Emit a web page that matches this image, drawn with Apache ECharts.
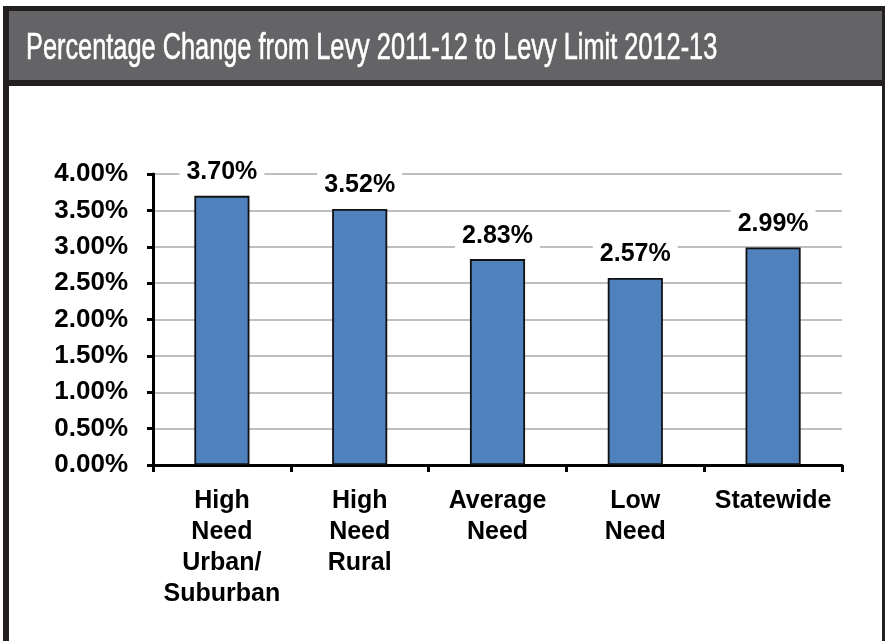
<!DOCTYPE html>
<html>
<head>
<meta charset="utf-8">
<script src="https://cdn.jsdelivr.net/npm/echarts@6/dist/echarts.min.js"></script>
<style>
html,body{margin:0;padding:0;background:#fff;}
#c{width:885px;height:641px;}
</style>
</head>
<body>
<div id="c"></div>
<script>
var titleText = 'Percentage Change from Levy 2011-12 to Levy Limit 2012-13';
var categories = ['High\nNeed\nUrban/\nSuburban', 'High\nNeed\nRural', 'Average\nNeed', 'Low\nNeed', 'Statewide'];
var values = [3.70, 3.52, 2.83, 2.57, 2.99];
var yMin = 0, yMax = 4, yInterval = 0.5;

var chart = echarts.init(document.getElementById('c'), null, {renderer: 'canvas'});
var FONT = '"Liberation Sans", Arial, Helvetica, sans-serif';
chart.setOption({
  animation: false,
  backgroundColor: '#ffffff',
  graphic: [
    {type: 'rect', shape: {x: 3, y: 6, width: 882, height: 640}, style: {fill: '#231f20'}, z: -10},
    {type: 'rect', shape: {x: 9, y: 11, width: 873, height: 635}, style: {fill: '#ffffff'}, z: -9},
    {type: 'rect', shape: {x: 9, y: 11, width: 873, height: 69}, style: {fill: '#646466'}, z: -8},
    {type: 'rect', shape: {x: 9, y: 80, width: 873, height: 6}, style: {fill: '#231f20'}, z: -8},
    {type: 'text', x: 26, y: 49, scaleX: 0.685, scaleY: 1, z: 10,
     style: {x: 0, y: 0, text: titleText, fill: '#ffffff', font: '37px ' + FONT, verticalAlign: 'middle', align: 'left',
       stroke: '#ffffff', lineWidth: 0.6}}
  ],
  grid: {left: 153, right: 43, top: 174, bottom: 176, containLabel: false},
  xAxis: {
    type: 'category',
    data: categories,
    axisLine: {lineStyle: {color: '#000', width: 3}},
    axisTick: {show: true, length: 7, lineStyle: {color: '#000', width: 3}},
    axisLabel: {color: '#000', fontFamily: FONT, fontWeight: 'bold', fontSize: 25, lineHeight: 31, margin: 21, interval: 0}
  },
  yAxis: {
    type: 'value', min: yMin, max: yMax, interval: yInterval,
    axisLine: {show: true, lineStyle: {color: '#000', width: 3}},
    axisTick: {show: true, length: 6, lineStyle: {color: '#000', width: 3}},
    axisLabel: {color: '#000', fontFamily: FONT, fontWeight: 'bold', fontSize: 26, margin: 25,
      formatter: function (v) { return v.toFixed(2) + '%'; }},
    splitLine: {show: true, lineStyle: {color: '#bfbfbf', width: 2}}
  },
  series: [{
    type: 'bar',
    data: values,
    barWidth: '40%',
    itemStyle: {color: '#4f81bd', borderColor: '#111111', borderWidth: 1.8},
    label: {
      show: true, position: 'top', distance: 5,
      formatter: function (p) { return p.value.toFixed(2) + '%'; },
      color: '#000', fontFamily: FONT, fontWeight: 'bold', fontSize: 25,
      backgroundColor: '#ffffff', padding: [4, 7, 6, 7]
    }
  }]
});
</script>
</body>
</html>
